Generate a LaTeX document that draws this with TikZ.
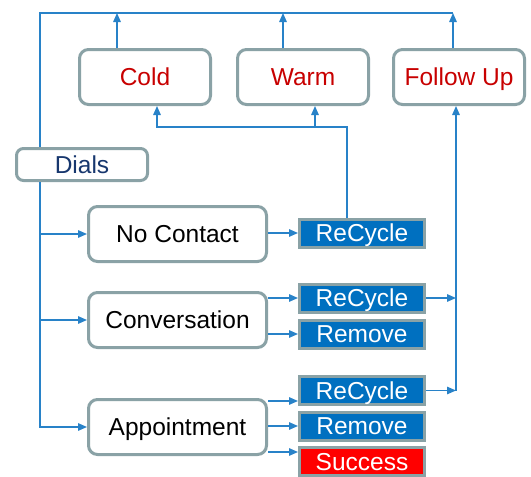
\documentclass[tikz,border=0pt]{standalone}
\usepackage{fontspec}
\setmainfont{Liberation Sans}
\usetikzlibrary{arrows.meta}
\definecolor{flow}{RGB}{40,130,200}
\definecolor{frame}{RGB}{138,162,166}
\definecolor{lead}{RGB}{200,0,0}
\definecolor{navy}{RGB}{23,55,110}
\definecolor{action}{RGB}{0,112,192}
\begin{document}
\begin{tikzpicture}[x=1pt,y=-1pt,
  every node/.style={font=\fontsize{24.5}{28}\selectfont, text height=17pt, text depth=0pt, inner sep=0pt},
  stage/.style={draw=frame, line width=3pt, rounded corners=9pt, fill=white, minimum height=55pt},
  result/.style={draw=frame, line width=3pt, fill=action, text=white, minimum width=125pt, minimum height=28pt},
  link/.style={draw=flow, line width=1.4pt},
  arr/.style={link, -{Triangle[length=9pt,width=7.5pt]}}]
\useasboundingbox (0,0) rectangle (531,477);

\node[stage, text=lead, minimum width=131pt] (Cold) at (145,77) {Cold};
\node[stage, text=lead, minimum width=131pt] (Warm) at (303,77) {Warm};
\node[stage, text=lead, minimum width=131pt] (FollowUp) at (459,77) {Follow Up};
\node[stage, text=navy, minimum width=131pt, minimum height=32pt, rounded corners=7pt] (Dials) at (82,164.5) {Dials};

\node[stage, minimum width=178pt] (NoContact) at (177.5,234) {No Contact};
\node[stage, minimum width=178pt] (Conversation) at (177.5,320) {Conversation};
\node[stage, minimum width=178pt] (Appointment) at (177.5,427) {Appointment};

\node[result] (rcA) at (362,233) {ReCycle};
\node[result] (rcB) at (362,298) {ReCycle};
\node[result] (rmB) at (362,334) {Remove};
\node[result] (rcC) at (362,390.5) {ReCycle};
\node[result] (rmC) at (362,426) {Remove};
\node[result, fill=red] (win) at (362,461.5) {Success};

\coordinate (loop) at (40,13);
\coordinate (turn) at (453,13);
\coordinate (split) at (315,127);
\coordinate (merge) at (456,0);

\draw[link] (turn) -- (loop) -- (loop |- Dials.north);
\draw[arr] (loop |- Dials.south) |- (Appointment.west);
\draw[arr] (loop |- NoContact) -- (NoContact.west);
\draw[arr] (loop |- Conversation) -- (Conversation.west);
\foreach \lead/\dx in {Cold/-28, Warm/-20, FollowUp/-6}
  \draw[arr] ([xshift=\dx pt]\lead.north) -- ([xshift=\dx pt]\lead.north |- loop);

\draw[arr] ([xshift=-15pt]rcA.north) |- ([xshift=12pt]Cold.south |- split) -- ([xshift=12pt]Cold.south);
\draw[arr] (split) -- (split |- Warm.south);

\draw[arr] (rcB.east) -- (rcB.east -| merge);
\draw[arr] (rcC.east) -- (rcC.east -| merge);
\draw[arr] (rcC.east -| merge) -- (merge |- FollowUp.south);

\foreach \from/\to in {NoContact/rcA, Conversation/rcB, Conversation/rmB}
  \draw[arr] (\from.east |- \to) -- (\to.west);
\foreach \to/\dy in {rcC/26, rmC/1, win/-25}
  \draw[arr] ([yshift=\dy pt]Appointment.east) -- ([yshift=\dy pt]Appointment.east -| \to.west);
\end{tikzpicture}
\end{document}
